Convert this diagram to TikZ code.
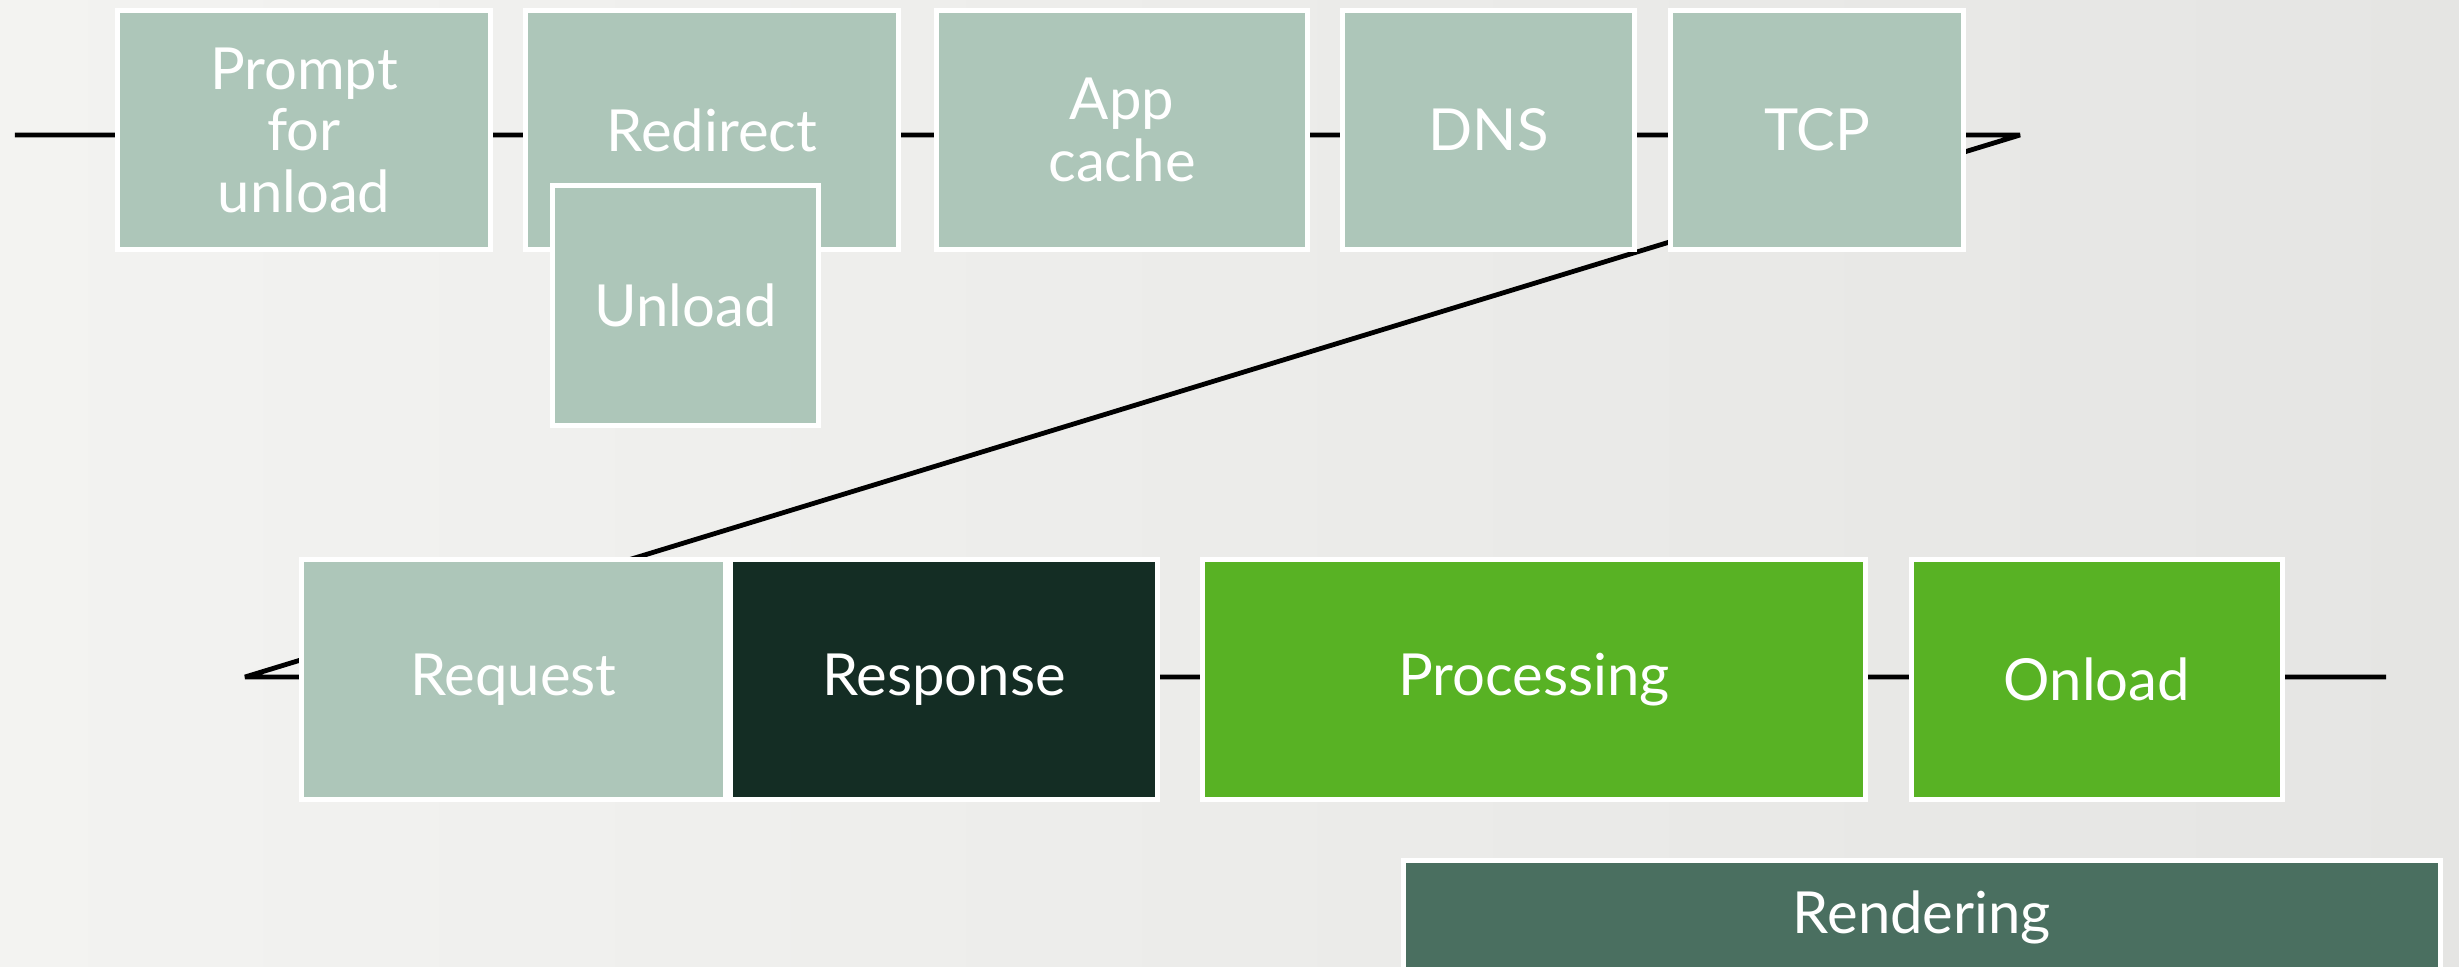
\documentclass[tikz,border=0pt]{standalone}
\usepackage{fontspec}
\setmainfont{Lato}
\definecolor{bgl}{HTML}{F3F3F1}
\definecolor{bgr}{HTML}{E5E5E3}
\definecolor{sage}{HTML}{ADC6B9}
\definecolor{pine}{HTML}{142D24}
\definecolor{leaf}{HTML}{58B224}
\definecolor{moss}{HTML}{4A6F60}
\tikzset{
	stage/.style={rectangle, draw=white, line width=0.05cm, fill=sage, text=white, align=center, inner sep=0pt, font=\fontsize{16.5}{17.5}\selectfont, minimum height=2.39cm},
	timeline/.style={line width=0.048cm, line join=bevel, black}
}
\begin{document}
\begin{tikzpicture}
		\clip (0, 0) rectangle (24.59, 9.66);
		\path[left color=bgl, right color=bgr] (0, 0) rectangle (24.59, 9.66);
		
		\coordinate (start) at (0.15, 8.31);
		\coordinate (tcpturn) at (20.20, 8.31);
		\coordinate (reqturn) at (2.45, 2.89);
		\coordinate (finish) at (23.86, 2.89);
		\draw [timeline] (start) -- (tcpturn) -- (reqturn) -- (finish);
		
		\draw node[stage, minimum width=3.73cm] at (3.04, 8.36) (prompt) {Prompt\\for\\unload};
		\draw node[stage, minimum width=3.73cm] at (7.12, 8.36) (redirect) {Redirect};
		\draw node[stage, minimum width=2.66cm, minimum height=2.40cm] at (6.855, 6.605) (unload) {Unload};
		\draw node[stage, minimum width=3.71cm] at (11.22, 8.36) (appcache) {App\\cache};
		\draw node[stage, minimum width=2.92cm] at (14.885, 8.36) (dns) {DNS};
		\draw node[stage, minimum width=2.93cm] at (18.17, 8.36) (tcp) {TCP};
		
		\draw node[stage, minimum width=4.24cm, minimum height=2.40cm] at (5.135, 2.865) (request) {Request};
		\draw node[stage, fill=pine, minimum width=4.27cm, minimum height=2.40cm] at (9.44, 2.865) (response) {Response};
		\draw node[stage, fill=leaf, minimum width=6.63cm, minimum height=2.40cm] at (15.34, 2.865) (processing) {Processing};
		\draw node[stage, fill=leaf, minimum width=3.71cm, minimum height=2.40cm] at (20.97, 2.865) (onload) {Onload};
		
		\draw node[stage, fill=moss, minimum width=10.37cm, minimum height=1.13cm] at (19.22, 0.49) (rendering) {Rendering};
	\end{tikzpicture}
\end{document}
